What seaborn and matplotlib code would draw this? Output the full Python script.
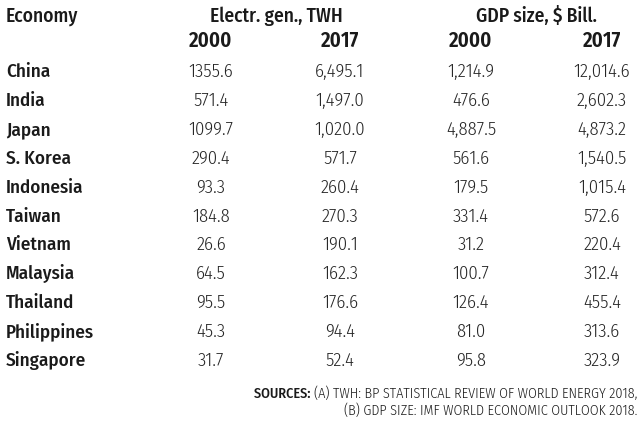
import matplotlib
matplotlib.use("Agg")
import matplotlib.pyplot as plt
import seaborn as sns

# ---- data ----
economies = ["China", "India", "Japan", "S. Korea", "Indonesia", "Taiwan",
             "Vietnam", "Malaysia", "Thailand", "Philippines", "Singapore"]
elec_2000 = [1355.6, 571.4, 1099.7, 290.4, 93.3, 184.8, 26.6, 64.5, 95.5, 45.3, 31.7]
elec_2017 = [6495.1, 1497.0, 1020.0, 571.7, 260.4, 270.3, 190.1, 162.3, 176.6, 94.4, 52.4]
gdp_2000 = [1214.9, 476.6, 4887.5, 561.6, 179.5, 331.4, 31.2, 100.7, 126.4, 81.0, 95.8]
gdp_2017 = [12014.6, 2602.3, 4873.2, 1540.5, 1015.4, 572.6, 220.4, 312.4, 455.4, 313.6, 323.9]
group_headers = ["Electr. gen., TWH", "GDP size, $ Bill."]
years = ["2000", "2017", "2000", "2017"]
first_header = "Economy"
source_label = "SOURCES: "
source_lines = ["(A) TWH: BP STATISTICAL REVIEW OF WORLD ENERGY 2018,",
                "(B) GDP SIZE: IMF WORLD ECONOMIC OUTLOOK 2018."]

sns.set_theme(style="white")
plt.rcParams["font.family"] = ["Fira Sans Condensed", "DejaVu Sans"]

fig = plt.figure(figsize=(6.4, 4.28), dpi=100)
ax = fig.add_axes([0, 0, 1, 1])
ax.set_xlim(0, 640)
ax.set_ylim(428, 0)
ax.axis("off")

dark = "#1a1a1a"
val_col = "#262626"

# layout
x_name = 6
group_x = [276, 536]
col_x = [211, 340, 471, 602]
y_head = 22
y_year = 47
y0 = 77
dy = 28.9

ax.text(x_name, y_head, first_header, fontsize=14, fontweight=500,
        color=dark, ha="left", va="baseline")
for gx, g in zip(group_x, group_headers):
    ax.text(gx, y_head, g, fontsize=14, fontweight=500, color=dark,
            ha="center", va="baseline")
for cx, yr in zip(col_x, years):
    ax.text(cx, y_year, yr, fontsize=15, fontweight=600, color=dark,
            ha="center", va="baseline")

cols = [
    [f"{v:.1f}" for v in elec_2000],
    [f"{v:,.1f}" for v in elec_2017],
    [f"{v:,.1f}" for v in gdp_2000],
    [f"{v:,.1f}" for v in gdp_2017],
]
for i, name in enumerate(economies):
    y = y0 + i * dy
    ax.text(x_name, y, name, fontsize=13.7, fontweight=500, color=dark,
            ha="left", va="baseline")
    for cx, col in zip(col_x, cols):
        ax.text(cx, y, col[i], fontsize=13.5, fontweight=300, color=val_col,
                ha="center", va="baseline")

src_y = [398, 415]
t1 = ax.text(637, src_y[0], source_lines[0], fontsize=10.2, fontweight=300,
             color=dark, ha="right", va="baseline")
ax.text(637, src_y[1], source_lines[1], fontsize=10.2, fontweight=300,
        color=dark, ha="right", va="baseline")
ax.annotate(source_label, xy=(0, 0), xycoords=t1, fontsize=10.2,
            fontweight=500, color=dark, ha="right", va="bottom")

fig.savefig("out.png", dpi=100, facecolor="white")
